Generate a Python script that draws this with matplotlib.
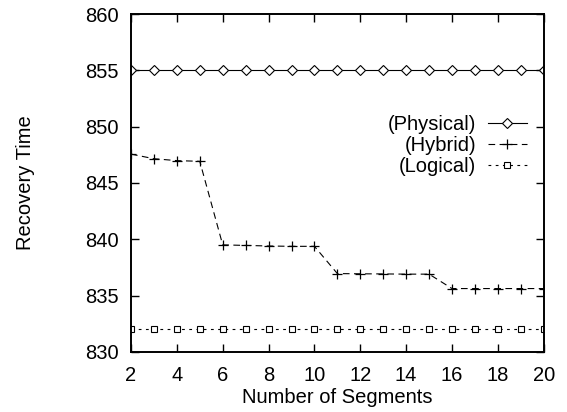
import matplotlib
matplotlib.use("Agg")
import matplotlib.pyplot as plt

plt.rcParams['font.family'] = ['Liberation Sans', 'DejaVu Sans']

segments = list(range(2, 21))
physical = [855.0] * 19
hybrid = [847.56, 847.15, 846.98, 846.92,
          839.5, 839.45, 839.4, 839.37, 839.37,
          836.95, 836.93, 836.92, 836.9, 836.9,
          835.62, 835.62, 835.62, 835.62, 835.62]
logical = [832.0] * 19

xticks = list(range(2, 21, 2))
yticks = list(range(830, 861, 5))

fs = 14.5

fig = plt.figure(figsize=(5.67, 4.12), dpi=100)
ax = fig.add_axes([0.231, 0.146, 0.728, 0.820])

lw = 0.8
ax.plot(segments, physical, color='black', lw=lw, linestyle='-',
        marker='D', markersize=4.8, markerfacecolor='white', markeredgewidth=0.8,
        label='(Physical)')
ax.plot(segments, hybrid, color='black', lw=lw, linestyle=(0, (6, 4)),
        marker='+', markersize=6.5, markeredgewidth=0.9,
        label='(Hybrid)')
ax.plot(segments, logical, color='black', lw=lw, linestyle=(0, (2.5, 4)),
        marker='s', markersize=4.8, markerfacecolor='white', markeredgewidth=0.8,
        label='(Logical)')

ax.set_xlim(2, 20)
ax.set_ylim(830, 860)
ax.set_xticks(xticks)
ax.set_yticks(yticks)
ax.tick_params(direction='in', length=6, width=1, top=True, right=True,
               labelsize=fs)
ax.tick_params(axis='x', pad=10)
ax.tick_params(axis='y', pad=9)
for s in ax.spines.values():
    s.set_linewidth(1.4)

ax.set_xlabel('Number of Segments', fontsize=fs, labelpad=2)
ax.set_ylabel('Recovery Time', fontsize=fs, labelpad=36)

leg = ax.legend(loc='upper right', bbox_to_anchor=(0.959, 0.70), frameon=False,
                markerfirst=False, fontsize=fs, handlelength=1.95,
                handletextpad=0.55, labelspacing=0.08, borderpad=0,
                borderaxespad=0)

fig.savefig('out.png', dpi=100)
